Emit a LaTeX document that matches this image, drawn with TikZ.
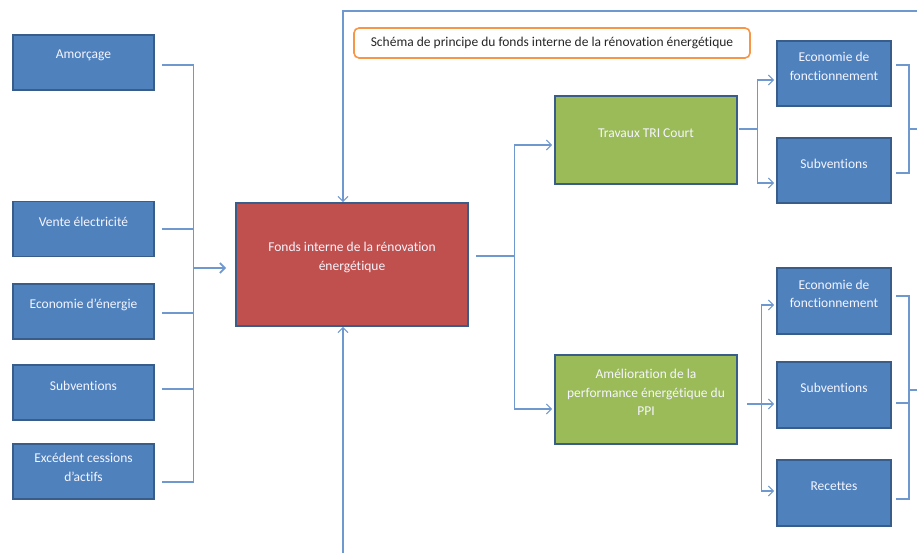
\documentclass[tikz,border=0pt]{standalone}
\usepackage{fontspec}
\setmainfont{Carlito}[Ligatures=NoCommon]
\usetikzlibrary{arrows.meta}

\definecolor{boxblue}{HTML}{4F81BD}
\definecolor{boxred}{HTML}{C0504D}
\definecolor{boxgreen}{HTML}{9BBB59}
\definecolor{edgeblue}{HTML}{385D8A}
\definecolor{linkblue}{HTML}{6F98CF}
\definecolor{titleorange}{HTML}{F79646}

\begin{document}
\begin{tikzpicture}[x=1pt, y=-1pt,
		box/.style={draw=edgeblue, line width=1.6pt, minimum width=141pt, minimum height=55pt, inner sep=0pt},
		lbl/.style={text=white!96!blue, align=center, font=\fontsize{13.5}{18.5}\selectfont, yshift=7pt},
		link/.style={draw=linkblue, line width=1.1pt},
		tip/.style={-{Straight Barb[length=5pt, width=10pt]}},
		feed/.style={link, line width=1.8pt}]
		\useasboundingbox (0,0) rectangle (917,553);

		% sources on the left
		\node[box, fill=boxblue, label={[lbl]center:Amorçage}] (amorcage) at (83.5,62.5) {};
		\node[box, fill=boxblue, label={[lbl]center:Vente électricité}] (vente) at (83.5,229) {};
		\node[box, fill=boxblue, label={[lbl]center:Economie d’énergie}] (ecoen) at (83.5,311.5) {};
		\node[box, fill=boxblue, label={[lbl]center:Subventions}] (subv) at (83.5,392.5) {};
		\node[box, fill=boxblue, label={[lbl, yshift=-3pt]center:Excédent cessions\\d’actifs}] (excedent) at (83.5,471.5) {};

		% the fund
		\node[box, fill=boxred, minimum width=232pt, minimum height=123pt, label={[lbl]center:Fonds interne de la rénovation\\énergétique}] (fonds) at (352,264.5) {};

		% the title
		\node[draw=titleorange, line width=1.6pt, rounded corners=5pt, minimum width=396pt, minimum height=30pt, text=black!85, font=\fontsize{13.5}{18}\selectfont] (titre) at (552,43) {Schéma de principe du fonds interne de la rénovation énergétique};

		% uses
		\node[box, fill=boxgreen, minimum width=182pt, minimum height=88pt, label={[lbl]center:Travaux TRI Court}] (tri) at (646,140) {};
		\node[box, fill=boxgreen, minimum width=182pt, minimum height=89pt, label={[lbl]center:Amélioration de la\\performance énergétique du\\PPI}] (ppi) at (646,399.5) {};

		% returns
		\node[box, fill=boxblue, minimum width=114pt, minimum height=65pt, label={[lbl]center:Economie de\\fonctionnement}] (ecoA) at (834,73.5) {};
		\node[box, fill=boxblue, minimum width=114pt, minimum height=65pt, label={[lbl]center:Subventions}] (subvA) at (834,170.5) {};
		\node[box, fill=boxblue, minimum width=114pt, minimum height=66pt, label={[lbl]center:Economie de\\fonctionnement}] (ecoB) at (834,301) {};
		\node[box, fill=boxblue, minimum width=114pt, minimum height=66pt, label={[lbl]center:Subventions}] (subvB) at (834,395) {};
		\node[box, fill=boxblue, minimum width=114pt, minimum height=66pt, label={[lbl]center:Recettes}] (recettes) at (834,493) {};

		\coordinate (busL) at (193,268);
		\coordinate (frameR) at (917,11);
		\coordinate (frameT) at (343,11);
		\coordinate (frameB) at (343,553);
		\coordinate (joinA) at (909,129);
		\coordinate (joinB) at (909,390);
		\coordinate (outA) at (917,129);
		\coordinate (outB) at (917,390);

		% left side into the fund
		\foreach \n/\dy in {amorcage/2.5, vente/0, ecoen/1.5, subv/-3.5, excedent/10.5}
			\draw[link] ([shift={(7,\dy)}]\n.east) -- ++(32,0);
		\draw[link] ([shift={(39,2.5)}]amorcage.east) -- ([shift={(39,10.5)}]excedent.east);
		\draw[feed, tip] (busL) -- ([shift={(-9,3.5)}]fonds.west);

		% the loop round the fund
		\draw[link, tip] (frameR) -- (frameT) -- (frameT |- fonds.north);
		\draw[link, tip] (frameB) -- (frameB |- fonds.south);

		% fund to the works
		\draw[link] ([shift={(7,-8.5)}]fonds.east) -- ++(39,0) coordinate (busM);
		\draw[link, tip] (busM) |- ([shift={(-2,5)}]tri.west);
		\draw[link, tip] (busM) |- ([shift={(-2,9.5)}]ppi.west);

		% works to the returns
		\draw[link] ([shift={(1,-11)}]tri.east) -- ++(19,0) coordinate (busA);
		\draw[link, tip] (busA) |- ([shift={(-2,6.5)}]ecoA.west);
		\draw[link, tip] (busA) |- ([shift={(-2,12.5)}]subvA.west);
		\draw[feed] ([shift={(9,4.5)}]ppi.east) -- ++(15,0) coordinate (busB);
		\draw[link, tip] (busB) |- ([shift={(-2,4)}]ecoB.west);
		\draw[link, tip] (busB) -- ([shift={(-2,9)}]subvB.west);
		\draw[link, tip] (busB) |- ([shift={(-2,-2)}]recettes.west);

		% returns going out on the right
		\draw[link] ([shift={(4,-8.5)}]ecoA.east) -| (joinA) |- ([shift={(4,2.5)}]subvA.east);
		\draw[link] (joinA) -- (outA);
		\draw[link] ([shift={(4,-5)}]ecoB.east) -| (joinB) |- ([shift={(4,6)}]recettes.east);
		\draw[link] ([shift={(4,8)}]subvB.east) -- ++(14,0);
		\draw[link] (joinB) -- (outB);
	\end{tikzpicture}
\end{document}
